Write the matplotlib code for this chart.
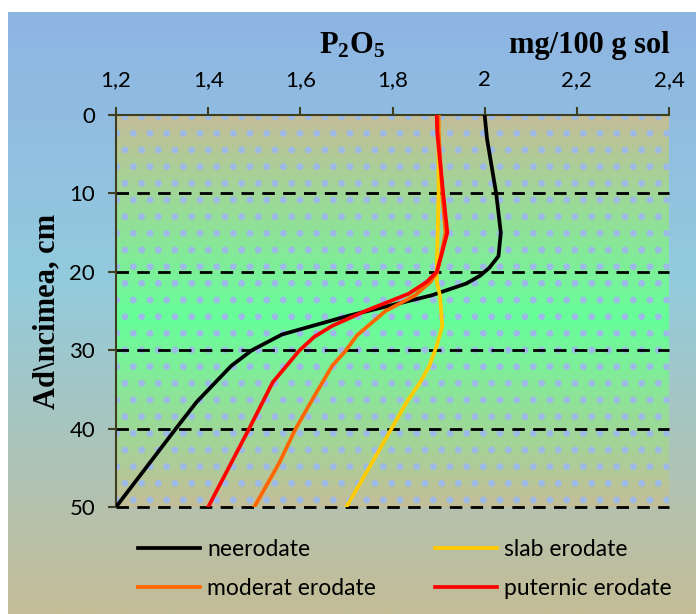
import numpy as np
import matplotlib.pyplot as plt
from matplotlib.colors import LinearSegmentedColormap
from matplotlib.patches import Rectangle

# Adancime (cm) si P2O5 (mg/100 g sol) pentru fiecare profil
ad_neer = [0, 3, 10, 15, 18, 19.5, 20.5, 21.5, 23, 25.6, 27, 28, 30, 32, 36.6, 40, 45, 50]
p_neer = [2.0, 2.005, 2.025, 2.035, 2.03, 2.01, 1.99, 1.96, 1.885, 1.705, 1.62, 1.56, 1.495, 1.45, 1.375, 1.33, 1.265, 1.2]

ad_slab = [0, 5, 10, 15, 20, 21.3, 23, 26.9, 29.4, 32, 34.1, 36.6, 40, 44.4, 50]
p_slab = [1.9, 1.9, 1.9, 1.898, 1.896, 1.896, 1.903, 1.908, 1.896, 1.88, 1.86, 1.831, 1.798, 1.755, 1.7]

ad_mod = [0, 2, 10, 15, 18, 20, 21.3, 23, 25, 28.1, 30.1, 32, 36.3, 40, 44.4, 50]
p_mod = [1.9, 1.9, 1.908, 1.915, 1.905, 1.897, 1.882, 1.849, 1.785, 1.723, 1.698, 1.669, 1.626, 1.59, 1.554, 1.5]

ad_put = [0, 2.2, 10, 15, 17.9, 20, 21.3, 22.8, 25, 26.9, 28.3, 30.1, 34.1, 40, 50]
p_put = [1.896, 1.897, 1.91, 1.919, 1.906, 1.896, 1.874, 1.835, 1.741, 1.669, 1.63, 1.597, 1.54, 1.489, 1.4]

x_ticks = [1.2, 1.4, 1.6, 1.8, 2.0, 2.2, 2.4]
x_labels = ['1,2', '1,4', '1,6', '1,8', '2', '2,2', '2,4']
y_ticks = [0, 10, 20, 30, 40, 50]

plt.rcParams['mathtext.fontset'] = 'custom'
plt.rcParams['mathtext.rm'] = 'Liberation Serif:bold'
plt.rcParams['hatch.color'] = '#9DB9E6'
plt.rcParams['hatch.linewidth'] = 2.5

fig = plt.figure(figsize=(6.96, 6.14), dpi=100)

# fundalul graficului (gradient albastru -> bej)
bg = fig.add_axes([8 / 696, 0, 1 - 8 / 696, 1 - 12 / 614], zorder=-5)
cm_bg = LinearSegmentedColormap.from_list('bg', [(0, '#8EB4E3'), (0.45, '#93CBDD'), (1, '#C4BD97')])
bg.imshow(np.linspace(0, 1, 256).reshape(-1, 1), cmap=cm_bg, aspect='auto', extent=[0, 1, 0, 1], origin='upper')
bg.axis('off')

ax = fig.add_axes([116 / 696, 1 - 507 / 614, 553 / 696, 392 / 614])
ax.set_facecolor('none')
cm_pl = LinearSegmentedColormap.from_list('pl', [(0, '#C4BD97'), (0.52, '#66FF99'), (1, '#C4BD97')])
ax.imshow(np.linspace(0, 1, 256).reshape(-1, 1), cmap=cm_pl, aspect='auto',
          extent=[1.2, 2.4, 50, 0], zorder=0)
ax.add_patch(Rectangle((1.2, 0), 1.2, 50, facecolor='none', hatch='.', linewidth=0, zorder=0.5))

for y in y_ticks[1:]:
    ax.axhline(y, color='black', lw=2, ls=(0, (4.5, 3)), zorder=1, clip_on=False)

ax.plot(p_neer, ad_neer, color='black', lw=2.7, label='neerodate', zorder=3)
ax.plot(p_slab, ad_slab, color='#FFCC00', lw=2.7, label='slab erodate', zorder=3)
ax.plot(p_mod, ad_mod, color='#FF6600', lw=2.7, label='moderat erodate', zorder=3)
ax.plot(p_put, ad_put, color='#FF0000', lw=2.7, label='puternic erodate', zorder=3)

ax.set_xlim(1.2, 2.4)
ax.set_ylim(50, 0)
ax.xaxis.tick_top()
ax.set_xticks(x_ticks)
ax.set_xticklabels(x_labels)
ax.set_yticks(y_ticks)
ax.tick_params(axis='both', direction='out', length=6, width=1.5, color='#3F3F1F',
               labelsize=16)
ax.tick_params(axis='x', pad=12)
ax.tick_params(axis='y', pad=9)
for lab in ax.get_xticklabels() + ax.get_yticklabels():
    lab.set_fontfamily('Lato')
ax.spines['bottom'].set_visible(False)
ax.spines['right'].set_visible(False)
for s in ['top', 'left']:
    ax.spines[s].set_color('#3F3F1F')
    ax.spines[s].set_linewidth(1.5)

ax.set_ylabel('Ad\\ncimea, cm', fontfamily='Liberation Serif', fontweight='bold', fontsize=22, labelpad=6)
fig.text(352 / 696, 1 - 45 / 614, r'$\mathrm{P_2O_5}$', fontsize=22, ha='center', va='center')
fig.text(589 / 696, 1 - 45 / 614, 'mg/100 g sol', fontfamily='Liberation Serif', fontweight='bold',
         fontsize=22, ha='center', va='center')

h, l = ax.get_legend_handles_labels()
order = [0, 2, 1, 3]
fig.legend([h[i] for i in order], [l[i] for i in order], ncol=2, loc='center',
           bbox_to_anchor=(405 / 696, 1 - 569 / 614), frameon=False,
           prop={'family': 'Lato', 'size': 16.5}, handlelength=2.7, handletextpad=0.3,
           columnspacing=2.6, labelspacing=0.75)

fig.savefig('out.png', dpi=100)
